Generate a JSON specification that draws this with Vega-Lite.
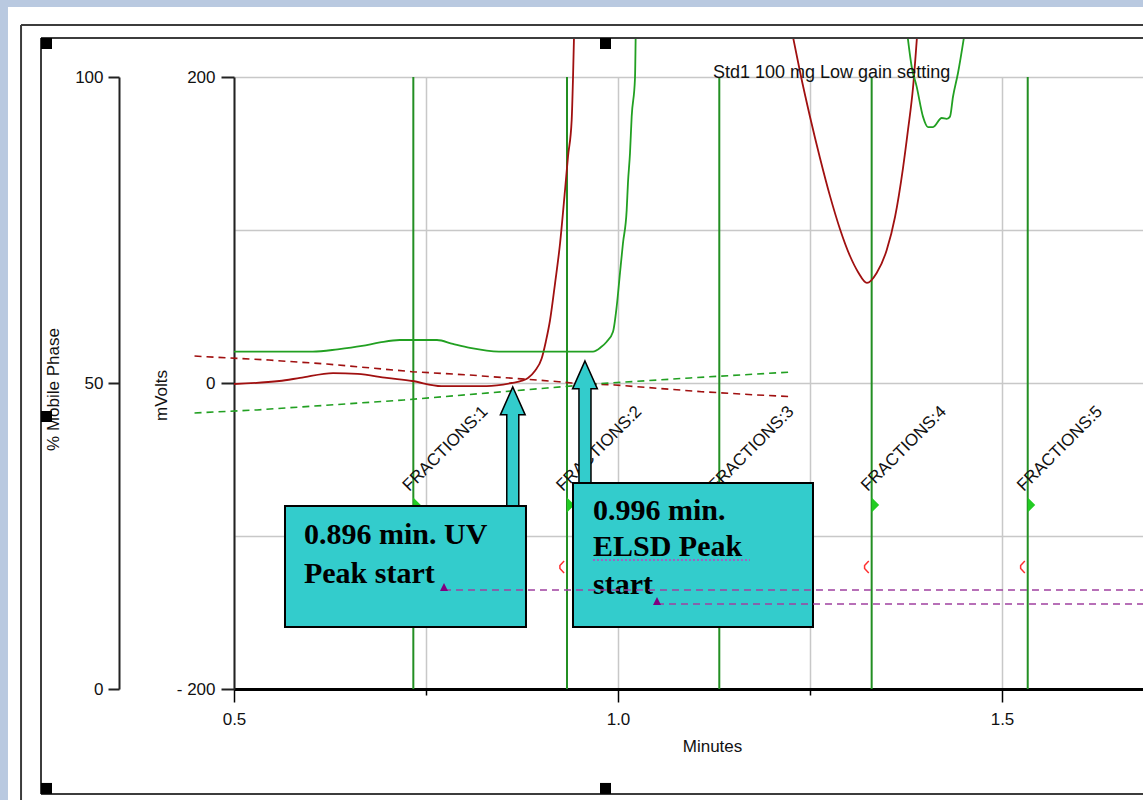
{
"$schema":"https://vega.github.io/schema/vega-lite/v6.json",
"width":909,"height":612,
"autosize":{"type":"none"},
"padding":{"left":234,"top":77,"right":0,"bottom":111},
"background":"#ffffff",
"config":{"view":{"stroke":null},"axis":{"labelFont":"Liberation Sans","titleFont":"Liberation Sans","labelFontSize":17,"titleFontSize":17,"titleFontWeight":"normal","labelColor":"#111111","titleColor":"#111111","domainColor":"#222222","tickColor":"#222222"}},
"datasets":{
"strips":[{"t":0.19,"t2":1.70,"v":245.8,"v2":256},{"t":0.19,"t2":0.2057,"v":-285,"v2":256}],
"frame":[{"t":0.2227,"t2":0.2227,"v":234,"v2":-285},{"t":0.2227,"t2":1.70,"v":234,"v2":234},{"t":0.2487,"t2":0.2487,"v":225.5,"v2":-268.6},{"t":0.2487,"t2":1.70,"v":225.5,"v2":225.5},{"t":0.2487,"t2":1.70,"v":-268.6,"v2":-268.6}],
"handles":[{"t":0.2487,"t2":0.263,"v":225.5,"v2":218.3},{"t":0.9766,"t2":0.9909,"v":225.5,"v2":218.3},{"t":0.2487,"t2":0.263,"v":-261.4,"v2":-268.6},{"t":0.9766,"t2":0.9909,"v":-261.4,"v2":-268.6},{"t":0.2487,"t2":0.263,"v":-18.3,"v2":-25.5}],
"fractions":[{"t":0.7335,"label":"FRACTIONS:1"},{"t":0.9336,"label":"FRACTIONS:2"},{"t":1.1319,"label":"FRACTIONS:3"},{"t":1.3303,"label":"FRACTIONS:4"},{"t":1.5335,"label":"FRACTIONS:5"}],
"curves":[
{"s":"uv","seg":"uv1","t":0.5,"v":-0.65},{"s":"uv","seg":"uv1","t":0.559,"v":1.3},{"s":"uv","seg":"uv1","t":0.586,"v":3.3},{"s":"uv","seg":"uv1","t":0.629,"v":6.5},{"s":"uv","seg":"uv1","t":0.661,"v":5.9},{"s":"uv","seg":"uv1","t":0.699,"v":3.3},{"s":"uv","seg":"uv1","t":0.732,"v":1.3},{"s":"uv","seg":"uv1","t":0.77,"v":-2.0},{"s":"uv","seg":"uv1","t":0.829,"v":-2.0},{"s":"uv","seg":"uv1","t":0.8616,"v":0},{"s":"uv","seg":"uv1","t":0.875,"v":1.5},{"s":"uv","seg":"uv1","t":0.8828,"v":3.3},{"s":"uv","seg":"uv1","t":0.892,"v":8},{"s":"uv","seg":"uv1","t":0.9006,"v":16},{"s":"uv","seg":"uv1","t":0.906,"v":27},{"s":"uv","seg":"uv1","t":0.9115,"v":41},{"s":"uv","seg":"uv1","t":0.918,"v":65},{"s":"uv","seg":"uv1","t":0.9245,"v":91},{"s":"uv","seg":"uv1","t":0.931,"v":126},{"s":"uv","seg":"uv1","t":0.9349,"v":148},{"s":"uv","seg":"uv1","t":0.9397,"v":172},{"s":"uv","seg":"uv1","t":0.9414,"v":199},{"s":"uv","seg":"uv1","t":0.9427,"v":226},
{"s":"uv","seg":"uv2","t":1.2279,"v":226.1},{"s":"uv","seg":"uv2","t":1.237,"v":203.4},{"s":"uv","seg":"uv2","t":1.25,"v":174.0},{"s":"uv","seg":"uv2","t":1.263,"v":147.1},{"s":"uv","seg":"uv2","t":1.276,"v":122.3},{"s":"uv","seg":"uv2","t":1.289,"v":100.7},{"s":"uv","seg":"uv2","t":1.3021,"v":83.0},{"s":"uv","seg":"uv2","t":1.3125,"v":72.6},{"s":"uv","seg":"uv2","t":1.3242,"v":65.4},{"s":"uv","seg":"uv2","t":1.3368,"v":71.9},{"s":"uv","seg":"uv2","t":1.3499,"v":86.9},{"s":"uv","seg":"uv2","t":1.3607,"v":108.5},{"s":"uv","seg":"uv2","t":1.3711,"v":140.5},{"s":"uv","seg":"uv2","t":1.3776,"v":165.4},{"s":"uv","seg":"uv2","t":1.3841,"v":192.8},{"s":"uv","seg":"uv2","t":1.3893,"v":226.1},
{"s":"elsd","seg":"el1","t":0.5,"v":20.5},{"s":"elsd","seg":"el1","t":0.6025,"v":20.5},{"s":"elsd","seg":"el1","t":0.635,"v":22},{"s":"elsd","seg":"el1","t":0.6667,"v":24.2},{"s":"elsd","seg":"el1","t":0.69,"v":26.5},{"s":"elsd","seg":"el1","t":0.7158,"v":28.1},{"s":"elsd","seg":"el1","t":0.7643,"v":28.1},{"s":"elsd","seg":"el1","t":0.785,"v":25.5},{"s":"elsd","seg":"el1","t":0.8073,"v":22.9},{"s":"elsd","seg":"el1","t":0.845,"v":20.5},{"s":"elsd","seg":"el1","t":0.9674,"v":20.5},{"s":"elsd","seg":"el1","t":0.978,"v":23.5},{"s":"elsd","seg":"el1","t":0.9853,"v":27},{"s":"elsd","seg":"el1","t":0.9935,"v":33.5},{"s":"elsd","seg":"el1","t":0.9983,"v":50},{"s":"elsd","seg":"el1","t":1.0026,"v":72},{"s":"elsd","seg":"el1","t":1.0065,"v":91.5},{"s":"elsd","seg":"el1","t":1.0113,"v":113},{"s":"elsd","seg":"el1","t":1.013,"v":131},{"s":"elsd","seg":"el1","t":1.0156,"v":150},{"s":"elsd","seg":"el1","t":1.0178,"v":174},{"s":"elsd","seg":"el1","t":1.0221,"v":199},{"s":"elsd","seg":"el1","t":1.023,"v":226},
{"s":"elsd","seg":"el2","t":1.3772,"v":226},{"s":"elsd","seg":"el2","t":1.3824,"v":206.7},{"s":"elsd","seg":"el2","t":1.3889,"v":193.7},{"s":"elsd","seg":"el2","t":1.3971,"v":174.1},{"s":"elsd","seg":"el2","t":1.4036,"v":167.3},{"s":"elsd","seg":"el2","t":1.4102,"v":167.3},{"s":"elsd","seg":"el2","t":1.4215,"v":173.2},{"s":"elsd","seg":"el2","t":1.428,"v":172.6},{"s":"elsd","seg":"el2","t":1.4323,"v":174.1},{"s":"elsd","seg":"el2","t":1.4362,"v":187.1},{"s":"elsd","seg":"el2","t":1.4427,"v":202.6},{"s":"elsd","seg":"el2","t":1.4505,"v":226}
],
"grad":[
{"s":"r","t":0.4486,"v":17.6},{"s":"r","t":0.5456,"v":15},{"s":"r","t":0.621,"v":12.4},{"s":"r","t":0.7318,"v":7.4},{"s":"r","t":0.807,"v":5.2},{"s":"r","t":0.923,"v":0.85},{"s":"r","t":0.94,"v":0},{"s":"r","t":0.996,"v":-1.3},{"s":"r","t":1.109,"v":-5.7},{"s":"r","t":1.18,"v":-7.8},{"s":"r","t":1.226,"v":-8.9},
{"s":"g","t":0.4486,"v":-19.6},{"s":"g","t":0.53,"v":-17.6},{"s":"g","t":0.7214,"v":-11.1},{"s":"g","t":0.9076,"v":-3.3},{"s":"g","t":0.9695,"v":-0.65},{"s":"g","t":1.0938,"v":3.3},{"s":"g","t":1.226,"v":7.2}
],
"title":[{"t":1.1237,"v":199.3,"text":"Std1 100 mg Low gain setting"}],
"arrows":[{"t":0.863,"v":-43.1},{"t":0.957,"v":-26.1}],
"boxes":[{"t":0.5664,"t2":0.8802,"v":-80.4,"v2":-159.5},{"t":0.9414,"t2":1.2539,"v":-65.4,"v2":-159.5}],
"boxtext":[{"t":0.5911,"v":-105.2,"text":"0.896 min. UV"},{"t":0.5911,"v":-130.5,"text":"Peak start"},{"t":0.9674,"v":-89.5,"text":"0.996 min."},{"t":0.9674,"v":-113.1,"text":"ELSD Peak"},{"t":0.9674,"v":-137.9,"text":"start"}],
"underline":[{"t":0.9674,"t2":1.1719,"v":-115.7}],
"plines":[{"t":0.7734,"t2":1.70,"v":-135.3},{"t":1.0508,"t2":1.70,"v":-144.4}],
"ptri":[{"t":0.7734,"v":-133.3},{"t":1.0508,"v":-142.5}]
},
"layer":[
{"layer":[
{"data":{"name":"strips"},"mark":{"type":"rect","color":"#b9c9e0"},
 "encoding":{
  "x":{"field":"t","type":"quantitative","scale":{"domain":[0.5,1.6836],"nice":false,"zero":false},
   "axis":{"title":"Minutes","values":[0.5,0.75,1,1.25,1.5],"labelExpr":"(datum.value==0.75||datum.value==1.25) ? '' : format(datum.value,'.1f')","grid":true,"gridColor":"#c8c8c8","gridWidth":1.5,"domainColor":"#000000","domainWidth":3,"tickColor":"#000000","tickWidth":1.5,"tickSize":{"condition":{"test":"datum.value==0.75||datum.value==1.25","value":6},"value":13},"labelPadding":9,"labelFlush":false,"labelOverlap":false,"titleX":478,"titleY":49,"titleBaseline":"top"}},
  "x2":{"field":"t2"},
  "y":{"field":"v","type":"quantitative","scale":{"domain":[-200,200],"nice":false,"zero":false},
   "axis":{"title":"mVolts","values":[-200,-100,0,100,200],"labelExpr":"datum.value==-200 ? '- 200' : (abs(datum.value)==100 ? '' : datum.label)","grid":true,"gridColor":"#c8c8c8","gridWidth":1.5,"domainWidth":2,"tickWidth":2,"tickSize":13,"tickOpacity":{"condition":{"test":"abs(datum.value)==100","value":0},"value":1},"labelPadding":6,"titleX":-64,"titleY":318,"titleAngle":270,"titleBaseline":"bottom","titleAlign":"center"}},
  "y2":{"field":"v2"}}},
{"data":{"name":"fractions"},"mark":{"type":"rule","color":"#238f23","strokeWidth":2},
 "encoding":{"x":{"field":"t","type":"quantitative"},"y":{"datum":200},"y2":{"datum":-200}}},
{"data":{"name":"grad"},"mark":{"type":"line","strokeWidth":1.6,"strokeDash":[7,5]},
 "encoding":{"x":{"field":"t","type":"quantitative"},"y":{"field":"v","type":"quantitative"},
  "color":{"field":"s","type":"nominal","scale":{"domain":["r","g"],"range":["#a01010","#22a022"]},"legend":null}}},
{"data":{"name":"curves"},"mark":{"type":"line","strokeWidth":1.8,"interpolate":"monotone"},
 "encoding":{"x":{"field":"t","type":"quantitative"},"y":{"field":"v","type":"quantitative"},"detail":{"field":"seg"},
  "color":{"field":"s","type":"nominal","scale":{"domain":["uv","elsd"],"range":["#9b1c1c","#2e9e2e"]},"legend":null}}},
{"data":{"name":"fractions"},"mark":{"type":"point","shape":"M0,-1 L1,0 L0,1 Z","size":225,"filled":true,"fill":"#22cc22","opacity":1,"strokeWidth":0},
 "encoding":{"x":{"field":"t","type":"quantitative"},"y":{"datum":-79.7}}},
{"data":{"name":"fractions"},"mark":{"type":"point","shape":"M0.35,-1 L-0.35,-0.25 L-0.35,0.25 L0.35,1","size":144,"filled":false,"stroke":"#ff3030","strokeWidth":1.5,"opacity":1,"xOffset":-5},
 "encoding":{"x":{"field":"t","type":"quantitative"},"y":{"datum":-120.3}}},
{"data":{"name":"fractions"},"mark":{"type":"text","angle":-45,"align":"left","baseline":"alphabetic","font":"Liberation Sans","fontSize":17,"color":"#111111","xOffset":-4},
 "encoding":{"x":{"field":"t","type":"quantitative"},"y":{"datum":-71.2},"text":{"field":"label"}}},
{"data":{"name":"title"},"mark":{"type":"text","align":"left","baseline":"alphabetic","font":"Liberation Sans","fontSize":18,"color":"#111111"},
 "encoding":{"x":{"field":"t","type":"quantitative"},"y":{"field":"v","type":"quantitative"},"text":{"field":"text"}}},
{"data":{"name":"arrows"},"mark":{"type":"point","shape":"M0,-1 L0.2,-0.55 L0.097,-0.55 L0.097,1 L-0.097,1 L-0.097,-0.55 L-0.2,-0.55 Z","size":15376,"filled":true,"fill":"#33cccc","stroke":"#000000","strokeWidth":1.5,"opacity":1},
 "encoding":{"x":{"field":"t","type":"quantitative"},"y":{"field":"v","type":"quantitative"}}},
{"data":{"name":"boxes"},"mark":{"type":"rect","fill":"#33cccc","stroke":"#000000","strokeWidth":2},
 "encoding":{"x":{"field":"t","type":"quantitative"},"x2":{"field":"t2"},"y":{"field":"v","type":"quantitative"},"y2":{"field":"v2"}}},
{"data":{"name":"boxtext"},"mark":{"type":"text","align":"left","baseline":"alphabetic","font":"Liberation Serif","fontWeight":"bold","fontSize":30,"color":"#000000"},
 "encoding":{"x":{"field":"t","type":"quantitative"},"y":{"field":"v","type":"quantitative"},"text":{"field":"text"}}},
{"data":{"name":"underline"},"mark":{"type":"rule","color":"#c040c0","strokeWidth":1.5,"strokeDash":[2,2]},
 "encoding":{"x":{"field":"t","type":"quantitative"},"x2":{"field":"t2"},"y":{"field":"v","type":"quantitative"}}},
{"data":{"name":"plines"},"mark":{"type":"rule","color":"#a040a0","strokeWidth":1.5,"strokeDash":[7,5]},
 "encoding":{"x":{"field":"t","type":"quantitative"},"x2":{"field":"t2"},"y":{"field":"v","type":"quantitative"}}},
{"data":{"name":"ptri"},"mark":{"type":"point","shape":"M0,-1 L1,1 L-1,1 Z","size":64,"filled":true,"fill":"#800080","opacity":1,"strokeWidth":0},
 "encoding":{"x":{"field":"t","type":"quantitative"},"y":{"field":"v","type":"quantitative"}}},
{"data":{"name":"frame"},"mark":{"type":"rule","color":"#3c3c3c","strokeWidth":2},
 "encoding":{"x":{"field":"t","type":"quantitative"},"x2":{"field":"t2"},"y":{"field":"v","type":"quantitative"},"y2":{"field":"v2"}}},
{"data":{"name":"handles"},"mark":{"type":"rect","color":"#000000"},
 "encoding":{"x":{"field":"t","type":"quantitative"},"x2":{"field":"t2"},"y":{"field":"v","type":"quantitative"},"y2":{"field":"v2"}}}
]},
{"data":{"values":[{"p":0}]},"mark":{"type":"rule","opacity":0},
 "encoding":{"y":{"field":"p","type":"quantitative","scale":{"domain":[0,100],"nice":false,"zero":false},
  "axis":{"orient":"left","offset":115,"title":"% Mobile Phase","values":[0,50,100],"grid":false,"domainWidth":2,"tickWidth":2,"tickSize":11,"labelPadding":5,"titleX":-57,"titleY":312,"titleAngle":270,"titleBaseline":"bottom","titleAlign":"center"}}}}
],
"resolve":{"scale":{"y":"independent"}}
}
